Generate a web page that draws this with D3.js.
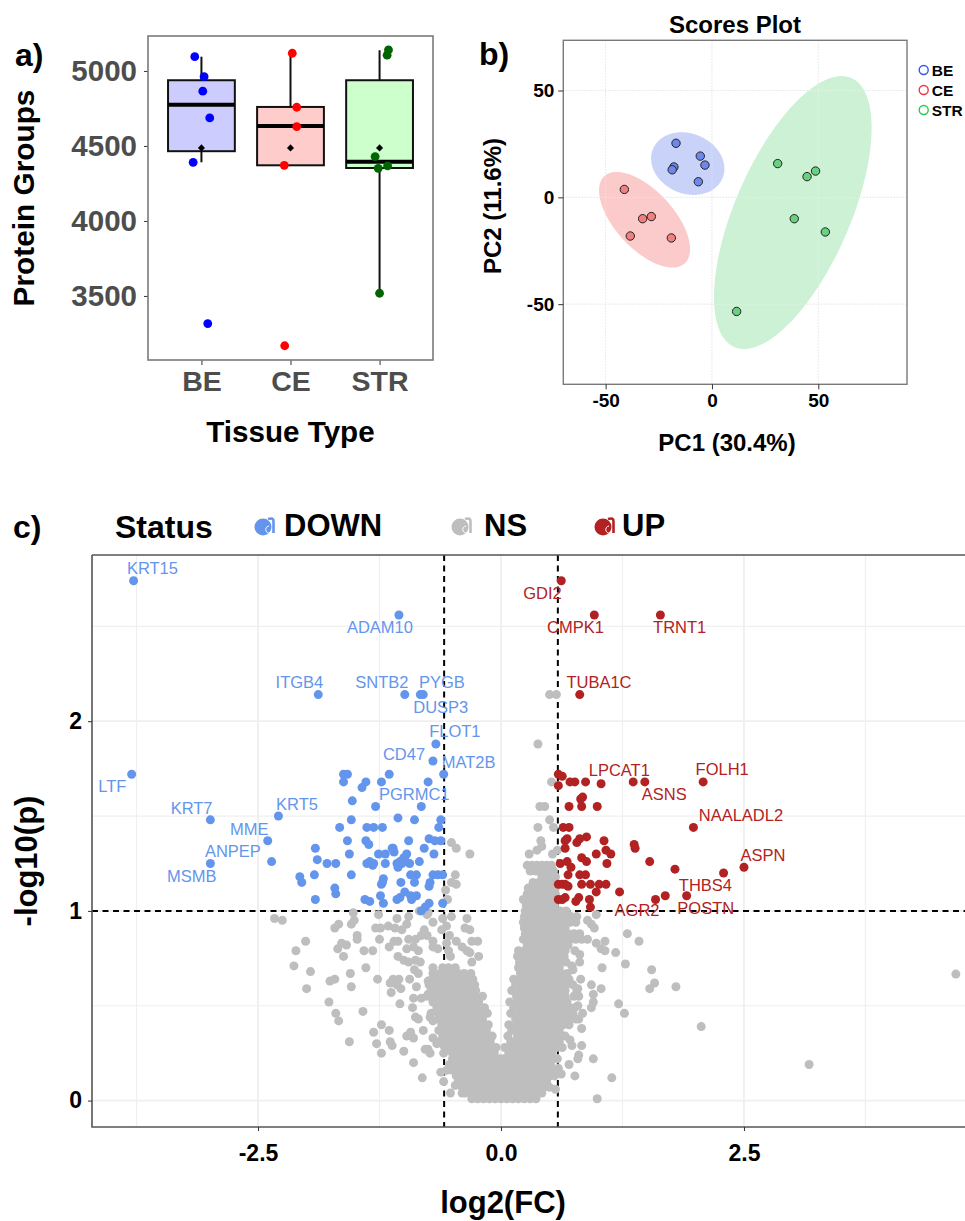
<!DOCTYPE html>
<html>
<head>
<meta charset="utf-8">
<script src="https://cdn.jsdelivr.net/npm/d3@7"></script>
<style>
  body { margin: 0; background: #fff; }
  svg { display: block; font-family: "Liberation Sans", Arial, sans-serif; }
</style>
</head>
<body>
<div id="chart"></div>
<script>
// a) protein groups per tissue
const tissues = ["BE", "CE", "STR"];
const box_q1 = [4465, 4371, 4353];
const box_median = [4775, 4633, 4395];
const box_q3 = [4938, 4760, 4938];
const whisker_low = [4391, 4371, 3518];
const whisker_high = [5095, 5118, 5138];
const box_mean = [4487, 4487, 4487];
const group_counts = [
    [5095, 4962, 4865, 4687, 4391, 3316],
    [5118, 4758, 4629, 4371, 3168],
    [5140, 5105, 4429, 4351, 4367, 3518]
];
const group_jitter = [
    [-0.075, 0.03, 0.015, 0.093, -0.093, 0.071],
    [0.02, 0.07, 0.07, -0.07, -0.065],
    [0.1, 0.085, -0.05, -0.015, 0.09, 0]
];

// b) PCA scores
const pc1_scores = [
    [-16.9, -5.5, -3.3, -17.9, -18.7, -6.4],
    [-41.2, -32.6, -28.5, -38.4, -19.1],
    [30.9, 48.7, 44.7, 38.7, 53.3, 11.6]
];
const pc2_scores = [
    [25.3, 19.3, 15.1, 14.2, 12.9, 7.3],
    [3.7, -10, -9, -18.1, -19],
    [15.8, 12.3, 9.7, -10, -16.2, -53.4]
];
// confidence ellipses: centre, vector to the topmost point, half width at centre height
const ellipse_center = [[-11.4, 15.8], [-31.7, -10.5], [38, -7.1]];
const ellipse_top = [[-2.82, 14.66], [-13.09, 22.39], [22.96, 63.9]];
const ellipse_half_width = [17, 16.93, 29.1];

// c) volcano plot, [log2FC, -log10p]
const down_points = [
    [-3.78,2.74],[-1.05,2.56],[-1.88,2.14],[-0.99,2.14],[-0.83,2.14],[-0.80,2.14],[-0.67,1.88],[-0.70,1.79],
    [-0.59,1.72],[-3.80,1.72],[-1.62,1.72],[-1.58,1.72],[-1.62,1.68],[-1.39,1.68],[-1.43,1.65],[-1.15,1.72],
    [-1.23,1.68],[-0.75,1.68],[-1.53,1.58],[-1.29,1.55],[-0.82,1.55],[-2.29,1.50],[-2.99,1.48],[-1.54,1.48],
    [-1.06,1.49],[-0.89,1.48],[-0.62,1.48],[-0.64,1.44],[-1.66,1.44],[-1.38,1.44],[-1.31,1.44],[-1.22,1.44],
    [-2.40,1.37],[-1.58,1.37],[-1.39,1.37],[-0.95,1.37],[-0.74,1.38],[-0.68,1.37],[-0.62,1.37],[-1.36,1.35],
    [-1.91,1.33],[-1.11,1.33],[-1.12,1.33],[-1.10,1.31],[-0.79,1.33],[-1.56,1.30],[-1.26,1.30],[-1.19,1.30],
    [-0.97,1.30],[-0.69,1.30],[-1.89,1.27],[-1.79,1.25],[-1.70,1.25],[-2.99,1.25],[-2.36,1.26],[-1.38,1.25],
    [-1.35,1.26],[-1.32,1.24],[-1.31,1.25],[-1.19,1.25],[-1.07,1.25],[-1.06,1.23],[-1.04,1.26],[-1.00,1.28],
    [-1.02,1.25],[-0.94,1.25],[-0.99,1.27],[-0.84,1.26],[-2.07,1.18],[-2.05,1.15],[-1.92,1.19],[-1.54,1.19],
    [-1.21,1.17],[-1.22,1.15],[-1.23,1.14],[-0.93,1.19],[-0.87,1.19],[-0.89,1.15],[-1.03,1.15],[-0.73,1.15],
    [-0.74,1.13],[-0.70,1.19],[-0.65,1.19],[-0.60,1.19],[-1.71,1.12],[-1.70,1.09],[-1.91,1.06],[-1.40,1.06],
    [-1.35,1.05],[-1.24,1.08],[-1.21,1.04],[-1.07,1.06],[-1.04,1.07],[-0.99,1.10],[-0.93,1.08],[-0.92,1.06],
    [-0.87,1.08],[-0.74,1.04],[-0.78,1.02],[-0.82,1.00],[-0.60,1.04]
];
const up_points = [
    [0.62,2.74],[0.96,2.56],[1.64,2.56],[0.81,2.14],[0.59,1.72],[0.63,1.71],[0.59,1.66],[0.71,1.68],[0.76,1.68],
    [0.87,1.68],[1.03,1.67],[1.36,1.68],[1.48,1.68],[2.08,1.68],[0.82,1.59],[0.84,1.60],[0.70,1.55],[0.83,1.55],
    [0.99,1.55],[1.98,1.44],[0.64,1.44],[0.70,1.44],[0.68,1.38],[0.66,1.37],[0.88,1.39],[0.81,1.38],[0.78,1.36],
    [1.06,1.37],[0.66,1.33],[1.37,1.35],[1.38,1.33],[0.98,1.30],[1.08,1.32],[1.13,1.30],[0.83,1.28],[0.88,1.26],
    [0.61,1.25],[0.68,1.26],[0.72,1.23],[1.09,1.25],[1.53,1.26],[2.50,1.23],[1.79,1.22],[2.29,1.20],[0.69,1.19],
    [0.81,1.19],[0.87,1.19],[0.59,1.14],[0.63,1.14],[0.66,1.14],[0.69,1.13],[0.83,1.14],[0.92,1.14],[1.01,1.14],
    [1.08,1.14],[1.22,1.10],[0.98,1.10],[1.91,1.08],[1.69,1.08],[1.59,1.06],[0.59,1.06],[0.66,1.07],[0.63,1.06],
    [0.80,1.07],[0.77,1.05],[0.91,1.06],[0.92,1.02]
];
// scattered non significant proteins
const ns_points = [
    [0.50,2.14],[0.57,2.14],[0.38,1.88],[0.52,1.68],[0.40,1.55],[0.45,1.55],[0.50,1.48],[0.38,1.44],[0.54,1.44],
    [0.41,1.37],[0.42,1.34],[0.37,1.32],[0.29,1.30],[0.53,1.30],[0.58,1.32],[-0.51,1.36],[-0.46,1.33],[-0.32,1.30],
    [-0.47,1.19],[-0.51,1.15],[-0.46,1.14],[-0.57,1.11],[-0.55,1.06],
    [-2.33,0.96],[-2.25,0.95],[-1.52,0.99],[-2.01,0.84],[-2.11,0.79],[-2.13,0.71],[-1.96,0.68],[-2.00,0.59],
    [-1.77,0.52],[-1.70,0.46],[-1.67,0.42],[-1.56,0.31],[-1.42,0.47],[-1.71,0.91],[-1.67,0.93],[-1.54,0.93],
    [-1.51,0.95],[-1.48,0.87],[-1.48,0.85],[-1.68,0.80],[-1.64,0.83],[-1.59,0.82],[-1.62,0.76],[-1.41,0.79],
    [-1.32,0.79],[-1.39,0.70],[-1.55,0.67],[-1.76,0.63],[-1.71,0.64],[-1.54,0.60],[-1.27,0.64],[-1.26,0.98],
    [-1.29,0.91],[-1.24,0.91],[-1.25,0.85],[-1.16,0.92],[-1.07,0.96],[-0.95,0.97],[-1.09,0.91],[-1.02,0.90],
    [-0.97,0.93],[-1.10,0.84],[-1.06,0.84],[-1.15,0.81],[-0.95,0.85],[-0.88,0.85],[-0.97,0.80],[-0.90,0.81],
    [-0.85,0.79],[-1.06,0.76],[-1.00,0.74],[-0.95,0.73],[-0.88,0.74],[-0.83,0.73],[-0.89,0.69],[-0.84,1.00],
    [-0.75,0.99],[-0.70,0.94],[-0.76,0.98],[-0.79,0.90],[-0.82,0.87],[-0.76,0.87],[-0.70,0.84],[-0.70,0.81],
    [-0.65,0.80],[-0.60,0.96],[-0.51,0.97],[-0.56,0.92],[-0.61,0.90],[-0.35,0.96],[-0.37,0.91],[-0.32,0.90],
    [-0.53,0.87],[-0.56,0.83],[-0.54,0.79],[-0.52,0.76],[-0.46,0.84],[-0.40,0.81],[-0.35,0.79],[-0.30,0.84],
    [-0.24,0.84],[-0.32,0.78],[-0.23,0.76],[-0.30,0.73],[-1.14,0.62],[-1.11,0.64],[-1.05,0.64],[-1.07,0.61],
    [-1.03,0.59],[-1.13,0.57],[-0.94,0.64],[-1.04,0.51],[-0.91,0.49],[-0.88,0.44],[-0.85,0.43],[-1.23,0.40],
    [-1.15,0.37],[-1.31,0.36],[-1.28,0.30],[-1.14,0.31],[-1.12,0.29],[-1.23,0.25],[-1.00,0.26],[-0.90,0.20],
    [-0.81,0.12],[-0.97,0.34],[-0.93,0.36],[-0.90,0.33],[-0.80,0.37],[-0.78,0.27],[-0.75,0.27],[-0.73,0.25],
    [-0.70,0.33],[-0.66,0.30],[-0.59,0.29],[-0.62,0.15],[-0.56,0.16],[-0.59,0.10],[-0.52,0.04],[-0.40,0.04],
    [-0.47,0.08],[-0.90,0.54],[-0.82,0.54],[-0.75,0.56],[-0.73,0.44],[-0.70,0.42],[-0.87,0.60],[-0.85,0.67],
    [-0.70,0.70],[-0.75,0.63],
    [0.98,0.98],[0.89,0.95],[0.93,0.93],[0.96,0.91],[1.30,0.88],[1.42,0.84],[1.07,0.84],[0.98,0.83],[1.03,0.80],
    [1.07,0.79],[1.18,0.78],[1.28,0.72],[1.04,0.70],[1.55,0.69],[1.58,0.62],[1.53,0.59],[1.80,0.60],[0.82,0.64],
    [0.93,0.61],[1.03,0.59],[0.95,0.56],[0.95,0.52],[0.93,0.49],[1.21,0.51],[1.27,0.46],[0.84,0.46],[0.80,0.43],
    [0.83,0.38],[2.06,0.39],[0.71,0.32],[0.73,0.29],[0.83,0.29],[0.80,0.24],[0.79,0.22],[0.95,0.22],[0.70,0.19],
    [0.62,0.14],[0.76,0.13],[1.14,0.12],[0.99,0.01],[0.56,0.06],[0.59,0.17],[0.73,0.71],[0.74,0.69],[0.76,0.79],
    [0.81,0.77],[0.81,0.73],[0.79,0.59],[0.80,0.55],[0.79,0.50],[0.69,0.43],[0.73,0.46],[4.68,0.667],[3.17,0.19]
];
// the dense V of non significant proteins, read row by row: y in ns_row_y, x values in ns_row_x
const ns_row_y = [0.01,0.04,0.07,0.10,0.13,0.16,0.19,0.22,0.25,0.28,0.31,0.34,0.37,0.40,0.43,0.46,0.49,0.52,0.55,0.58,
    0.61,0.64,0.67,0.70,0.73,0.76,0.79,0.82,0.85,0.88,0.91,0.94,0.97,1.00,1.03,1.06,1.09,1.12,1.15,1.18,1.21,1.24];
const ns_row_x = [
    [-.30,-.24,-.18,-.12,-.06,0,.06,.12,.18,.24,.30,.36],
    [-.37,-.30,-.24,-.18,-.12,-.06,0,.06,.12,.18,.24,.30,.36,.42],
    [-.40,-.34,-.28,-.22,-.16,-.10,-.04,.02,.08,.14,.20,.26,.32,.38,.44,.50],
    [-.44,-.36,-.30,-.24,-.18,-.12,-.06,0,.06,.12,.18,.24,.30,.36,.42,.47],
    [-.46,-.40,-.34,-.28,-.22,-.16,-.10,-.04,.02,.08,.14,.20,.26,.32,.38,.44,.50,.55],
    [-.50,-.44,-.38,-.32,-.26,-.20,-.14,-.08,-.03,.01,.07,.13,.19,.25,.31,.37,.43,.49,.52],
    [-.53,-.44,-.38,-.32,-.26,-.20,-.14,-.08,-.02,.03,.09,.15,.21,.27,.33,.39,.45,.51],
    [-.50,-.48,-.42,-.36,-.30,-.24,-.18,-.12,-.06,-.01,.03,.11,.17,.23,.29,.35,.41,.47,.53,.58],
    [-.59,-.50,-.44,-.38,-.32,-.26,-.20,-.14,-.07,.08,.12,.18,.24,.30,.36,.42,.48,.52],
    [-.57,-.53,-.47,-.41,-.35,-.29,-.23,-.17,-.11,-.05,.04,.11,.17,.23,.29,.35,.41,.47,.53,.57,.63],
    [-.64,-.56,-.50,-.44,-.38,-.32,-.26,-.20,-.14,-.11,.10,.14,.20,.26,.32,.38,.44,.50,.56,.60],
    [-.60,-.57,-.51,-.45,-.39,-.33,-.27,-.21,-.15,-.09,.07,.17,.23,.29,.35,.41,.47,.53,.59,.62,.66],
    [-.64,-.56,-.50,-.44,-.38,-.32,-.26,-.20,-.15,.11,.15,.21,.27,.33,.39,.45,.51,.57,.60],
    [-.61,-.57,-.51,-.45,-.39,-.33,-.27,-.21,-.13,.08,.16,.22,.28,.34,.40,.46,.52,.58,.64,.70],
    [-.64,-.59,-.53,-.47,-.41,-.35,-.29,-.23,-.19,.15,.20,.26,.32,.38,.44,.50,.56,.62,.68,.72,.77],
    [-.72,-.64,-.58,-.52,-.46,-.40,-.34,-.28,-.22,-.14,.10,.19,.25,.31,.37,.43,.49,.55,.61,.67,.74],
    [-.66,-.62,-.56,-.50,-.44,-.38,-.32,-.26,-.17,.13,.17,.23,.29,.35,.41,.47,.53,.59,.65,.71,.76],
    [-.70,-.63,-.57,-.51,-.45,-.39,-.33,-.27,-.23,.09,.17,.23,.29,.35,.41,.47,.53,.59,.64,.68],
    [-.76,-.69,-.63,-.57,-.51,-.45,-.39,-.33,-.27,-.19,.16,.18,.24,.30,.36,.42,.48,.54,.60,.66,.75],
    [-.72,-.66,-.60,-.54,-.48,-.42,-.36,-.30,-.26,.11,.20,.26,.32,.38,.44,.50,.56,.62,.66,.78],
    [-.74,-.69,-.63,-.57,-.51,-.45,-.39,-.31,-.27,.15,.19,.25,.31,.37,.43,.49,.55,.61,.67,.74],
    [-.71,-.65,-.59,-.53,-.47,-.41,-.37,-.29,.13,.19,.25,.31,.37,.43,.49,.55,.61,.67,.70],
    [-.70,-.63,-.56,-.50,-.44,-.38,-.31,.20,.26,.32,.38,.44,.50,.56,.62,.68],
    [-.60,-.54,-.47,.18,.24,.30,.36,.42,.48,.54,.60],
    [.19,.25,.31,.37,.43,.49,.55,.61,.67],
    [.17,.23,.29,.35,.41,.47,.53,.59,.65],
    [.18,.24,.30,.36,.42,.48,.54,.60,.66],
    [.27,.33,.39,.45,.51,.57,.63,.69],
    [.23,.29,.35,.41,.47,.53,.59,.65,.71,.77,.83,.89],
    [.25,.31,.37,.43,.49,.55,.61,.69,.75,.81],
    [.24,.30,.36,.42,.48,.54,.60,.66],
    [.23,.29,.35,.41,.47,.53,.59,.65,.71,.77],
    [.24,.30,.36,.42,.48,.54,.60,.66,.72,.78],
    [.25,.31,.37,.43,.49,.55,.61,.67],
    [.26,.32,.38,.44,.50,.55],
    [.23,.29,.35,.41,.47,.53],
    [.27,.33,.39,.45,.51,.56],
    [.28,.34,.40,.46,.51,.56],
    [.33,.39,.44,.50,.55],
    [.42,.47,.52,.56],
    [.30,.36,.41,.49,.54],
    [.27,.32,.37,.42,.47,.52]
];
const fc_threshold = 0.585;
const p_threshold = 1;

const down_genes = ["KRT15","ADAM10","ITGB4","SNTB2","PYGB","DUSP3","FLOT1","CD47","MAT2B","LTF","KRT7","KRT5","PGRMC1","MME","ANPEP","MSMB"];
const down_gene_fc = [-3.78,-1.05,-1.88,-0.99,-0.83,-0.80,-0.67,-0.70,-0.59,-3.80,-2.99,-2.29,-0.82,-2.40,-2.36,-2.99];
const down_gene_p = [2.74,2.56,2.14,2.14,2.14,2.14,1.88,1.79,1.72,1.72,1.48,1.50,1.55,1.37,1.26,1.25];
const up_genes = ["GDI2","CMPK1","TRNT1","TUBA1C","LPCAT1","ASNS","FOLH1","NAALADL2","ASPN","THBS4","POSTN","AGR2"];
const up_gene_fc = [0.62,0.96,1.64,0.81,1.03,1.48,2.08,1.98,2.50,2.29,1.91,1.22];
const up_gene_p = [2.74,2.56,2.56,2.14,1.67,1.68,1.68,1.44,1.23,1.20,1.08,1.10];

// label placement relative to the point (px), what ggrepel came up with
const down_label_nudge = [[-6.7,-6.7],[-52,18.4],[-42.7,-6.3],[-49.4,-6.3],[-1.4,-6.3],[-10,18.3],[-6.7,-6.6],[-50,-0.7],[-2,-6],[-33.4,18],[-39.7,-6.3],[-2.3,-5.7],[-42.4,-6.3],[-37.7,-6],[-66.7,-5],[-43.4,18.7]];
const up_label_nudge = [[-38,18.6],[-47.3,18.4],[-7.3,18.4],[-13.3,-6.7],[-12.4,-8],[-3,18.3],[-7.6,-6.4],[5.3,-6.3],[-3.4,-6.7],[-44.7,17.7],[-9.3,18],[-5,23.7]];

const box_colors = ["#ccccff", "#ffcccc", "#ccffcc"];
const jitter_colors = ["#0000ff", "#ff0000", "#006400"];
const ellipse_colors = ["#c9d2f8", "#fbcaca", "#cdf1d5"];
const score_colors = ["#6f87ea", "#f07f7f", "#69d080"];
const legend_colors = ["#3355ee", "#ee3344", "#22cc55"];

const svg = d3.select("#chart").append("svg")
    .attr("width", 965)
    .attr("height", 1221);

// panel letters
[["a)", 15, 66], ["b)", 479, 65], ["c)", 13, 538]].forEach(d => {
    svg.append("text").attr("x", d[1]).attr("y", d[2])
        .attr("font-size", 32).attr("font-weight", "bold").text(d[0]);
});

function styleAxis(g, color, size, weight) {
    g.select(".domain").remove();
    g.selectAll(".tick line").attr("stroke", "#333");
    g.selectAll(".tick text")
        .attr("fill", color)
        .attr("font-family", "Liberation Sans")
        .attr("font-size", size)
        .attr("font-weight", weight);
}

// ---- a) box plot
function drawBoxes() {
    const left = 148, right = 433, top = 36, bottom = 360;
    const x = d3.scalePoint().domain(tissues).range([left, right]).padding(0.6);
    const y = d3.scaleLinear().domain([3073, 5233]).range([bottom, top]);
    const step = x.step();
    const box_width = step * 0.75;
    const g = svg.append("g");

    g.append("g").attr("transform", `translate(${left},0)`)
        .call(d3.axisLeft(y).tickValues([3500, 4000, 4500, 5000]).tickFormat(d3.format("d")).tickSize(4).tickPadding(7))
        .call(a => styleAxis(a, "#4d4d4d", 29.5, "bold"));
    g.append("g").attr("transform", `translate(0,${bottom})`)
        .call(d3.axisBottom(x).tickSize(5).tickPadding(6))
        .call(a => styleAxis(a, "#4d4d4d", 28.5, "bold"));

    const box = g.selectAll(".box").data(tissues).join("g").attr("class", "box");
    box.append("line")
        .attr("x1", d => x(d)).attr("x2", d => x(d))
        .attr("y1", (d, i) => y(whisker_low[i])).attr("y2", (d, i) => y(whisker_high[i]))
        .attr("stroke", "#111").attr("stroke-width", 2);
    box.append("rect")
        .attr("x", d => x(d) - box_width / 2).attr("width", box_width)
        .attr("y", (d, i) => y(box_q3[i]))
        .attr("height", (d, i) => y(box_q1[i]) - y(box_q3[i]))
        .attr("fill", (d, i) => box_colors[i])
        .attr("stroke", "#111").attr("stroke-width", 2);
    box.append("line")
        .attr("x1", d => x(d) - box_width / 2).attr("x2", d => x(d) + box_width / 2)
        .attr("y1", (d, i) => y(box_median[i])).attr("y2", (d, i) => y(box_median[i]))
        .attr("stroke", "#000").attr("stroke-width", 4);
    box.append("path")
        .attr("transform", (d, i) => `translate(${x(d)},${y(box_mean[i])}) rotate(45)`)
        .attr("d", "M-2.5,-2.5H2.5V2.5H-2.5Z").attr("fill", "#000");

    tissues.forEach((t, i) => {
        g.append("g").selectAll("circle").data(group_counts[i]).join("circle")
            .attr("cx", (d, j) => x(t) + group_jitter[i][j] * step)
            .attr("cy", d => y(d))
            .attr("r", 4.4)
            .attr("fill", jitter_colors[i]);
    });

    g.append("rect").attr("x", left).attr("y", top)
        .attr("width", right - left).attr("height", bottom - top)
        .attr("fill", "none").attr("stroke", "#7a7a7a").attr("stroke-width", 1.6);

    g.append("text").attr("x", x("CE")).attr("y", 442).attr("text-anchor", "middle")
        .attr("font-size", 29.6).attr("font-weight", "bold").text("Tissue Type");
    g.append("text").attr("transform", "translate(34,198) rotate(-90)").attr("text-anchor", "middle")
        .attr("font-size", 29.8).attr("font-weight", "bold").text("Protein Groups");
}

// ---- b) scores plot
function drawScores() {
    const left = 563.3, right = 907, top = 40.3, bottom = 384.3;
    const x = d3.scaleLinear().domain([-69.9, 91.7]).range([left, right]);
    const y = d3.scaleLinear().domain([-87.5, 73.5]).range([bottom, top]);
    const g = svg.append("g");
    const ticks = [-50, 0, 50];

    g.append("g").selectAll("line").data(ticks).join("line")
        .attr("x1", d => x(d)).attr("x2", d => x(d)).attr("y1", top).attr("y2", bottom)
        .attr("stroke", "#ddd").attr("stroke-dasharray", "1.5,1.5");
    g.append("g").selectAll("line").data(ticks).join("line")
        .attr("x1", left).attr("x2", right).attr("y1", d => y(d)).attr("y2", d => y(d))
        .attr("stroke", "#ddd").attr("stroke-dasharray", "1.5,1.5");

    const angles = d3.range(0, 2 * Math.PI + 0.05, 0.05);
    const ellipse_line = d3.line();
    g.append("g").selectAll("path").data(tissues).join("path")
        .attr("d", (d, i) => ellipse_line(angles.map(t => [
            x(ellipse_center[i][0] + ellipse_top[i][0] * Math.cos(t) + ellipse_half_width[i] * Math.sin(t)),
            y(ellipse_center[i][1] + ellipse_top[i][1] * Math.cos(t))
        ])))
        .attr("fill", (d, i) => ellipse_colors[i]);

    // redraw the faint grid over the ellipses
    g.append("g").selectAll("line").data(ticks).join("line")
        .attr("x1", d => x(d)).attr("x2", d => x(d)).attr("y1", top).attr("y2", bottom)
        .attr("stroke", "#fff").attr("stroke-opacity", 0.35).attr("stroke-dasharray", "1.5,1.5");
    g.append("g").selectAll("line").data(ticks).join("line")
        .attr("x1", left).attr("x2", right).attr("y1", d => y(d)).attr("y2", d => y(d))
        .attr("stroke", "#fff").attr("stroke-opacity", 0.35).attr("stroke-dasharray", "1.5,1.5");

    tissues.forEach((t, i) => {
        g.append("g").selectAll("circle").data(pc1_scores[i]).join("circle")
            .attr("cx", d => x(d))
            .attr("cy", (d, j) => y(pc2_scores[i][j]))
            .attr("r", 4.2)
            .attr("fill", score_colors[i])
            .attr("stroke", "#222").attr("stroke-width", 1);
    });

    g.append("rect").attr("x", left).attr("y", top)
        .attr("width", right - left).attr("height", bottom - top)
        .attr("fill", "none").attr("stroke", "#7a7a7a").attr("stroke-width", 1.4);

    g.append("g").attr("transform", `translate(${left},0)`)
        .call(d3.axisLeft(y).tickValues(ticks).tickFormat(d3.format("d")).tickSize(5).tickPadding(4))
        .call(a => styleAxis(a, "#000", 19, "bold"));
    g.append("g").attr("transform", `translate(0,${bottom})`)
        .call(d3.axisBottom(x).tickValues(ticks).tickFormat(d3.format("d")).tickSize(5).tickPadding(4))
        .call(a => styleAxis(a, "#000", 19, "bold"));
    g.selectAll(".tick text").text(function() { return this.textContent.replace("\u2212", "-"); });

    g.append("text").attr("x", 735).attr("y", 33).attr("text-anchor", "middle")
        .attr("font-size", 24).attr("font-weight", "bold").text("Scores Plot");
    g.append("text").attr("x", 727).attr("y", 451).attr("text-anchor", "middle")
        .attr("font-size", 24).attr("font-weight", "bold").text("PC1 (30.4%)");
    g.append("text").attr("transform", "translate(501,206) rotate(-90)").attr("text-anchor", "middle")
        .attr("font-size", 24).attr("font-weight", "bold").text("PC2 (11.6%)");

    const legend = g.selectAll(".key").data(tissues).join("g").attr("class", "key")
        .attr("transform", (d, i) => `translate(923.7,${70 + i * 20})`);
    legend.append("circle").attr("r", 4.5).attr("fill", "#fff")
        .attr("stroke", (d, i) => legend_colors[i]).attr("stroke-width", 1.4);
    legend.append("text").attr("x", 8).attr("y", 5.5)
        .attr("font-size", 15.5).attr("font-weight", "bold").text(d => d);
}

// ---- c) volcano plot
function drawVolcano() {
    const left = 92, right = 965, top = 555, bottom = 1127;
    const x = d3.scaleLinear().domain([-4.208, 4.774]).range([left, right]);
    const y = d3.scaleLinear().domain([-0.1392, 2.876]).range([bottom, top]);
    const g = svg.append("g");
    const major_x = [-2.5, 0, 2.5], minor_x = [-3.75, -1.25, 1.25, 3.75];
    const major_y = [0, 1, 2], minor_y = [0.5, 1.5, 2.5];

    g.append("g").selectAll("line").data(minor_x.concat(major_x)).join("line")
        .attr("x1", d => x(d)).attr("x2", d => x(d)).attr("y1", top).attr("y2", bottom)
        .attr("stroke", "#efefef").attr("stroke-width", d => major_x.includes(d) ? 1.8 : 1.2);
    g.append("g").selectAll("line").data(minor_y.concat(major_y)).join("line")
        .attr("x1", left).attr("x2", right).attr("y1", d => y(d)).attr("y2", d => y(d))
        .attr("stroke", "#efefef").attr("stroke-width", d => major_y.includes(d) ? 1.8 : 1.2);

    [-fc_threshold, fc_threshold].forEach(v => {
        g.append("line").attr("x1", x(v)).attr("x2", x(v)).attr("y1", top).attr("y2", bottom)
            .attr("stroke", "#000").attr("stroke-width", 2).attr("stroke-dasharray", "6,4.5");
    });
    g.append("line").attr("x1", left).attr("x2", right).attr("y1", y(p_threshold)).attr("y2", y(p_threshold))
        .attr("stroke", "#000").attr("stroke-width", 2).attr("stroke-dasharray", "6,4.5");

    const ns_all = ns_points.concat(ns_row_x.flatMap((xs, i) => xs.map(v => [v, ns_row_y[i]])));
    [[ns_all, "#bebebe"], [down_points, "#6495ed"], [up_points, "#b22222"]].forEach(([pts, color]) => {
        g.append("g").selectAll("circle").data(pts).join("circle")
            .attr("cx", d => x(d[0]))
            .attr("cy", d => y(d[1]))
            .attr("r", 4.5)
            .attr("fill", color);
    });

    g.append("g").selectAll("text").data(down_genes).join("text")
        .attr("x", (d, i) => x(down_gene_fc[i]) + down_label_nudge[i][0])
        .attr("y", (d, i) => y(down_gene_p[i]) + down_label_nudge[i][1])
        .attr("font-size", 16.5).attr("fill", "#6495ed").text(d => d);
    g.append("g").selectAll("text").data(up_genes).join("text")
        .attr("x", (d, i) => x(up_gene_fc[i]) + up_label_nudge[i][0])
        .attr("y", (d, i) => y(up_gene_p[i]) + up_label_nudge[i][1])
        .attr("font-size", 16.5).attr("fill", "#b22222").text(d => d);

    g.append("path")
        .attr("d", `M${left},${top}H${right}M${left},${top}V${bottom}H${right}`)
        .attr("fill", "none").attr("stroke", "#555").attr("stroke-width", 1.6);

    g.append("g").attr("transform", `translate(${left},0)`)
        .call(d3.axisLeft(y).tickValues(major_y).tickFormat(d3.format("d")).tickSize(4).tickPadding(6))
        .call(a => styleAxis(a, "#000", 23, "bold"));
    g.append("g").attr("transform", `translate(0,${bottom})`)
        .call(d3.axisBottom(x).tickValues(major_x).tickFormat(d3.format(".1f")).tickSize(4).tickPadding(14))
        .call(a => styleAxis(a, "#000", 23, "bold"));
    g.selectAll(".tick text").text(function() { return this.textContent.replace("\u2212", "-"); });

    g.append("text").attr("x", 503).attr("y", 1213).attr("text-anchor", "middle")
        .attr("font-size", 31).attr("font-weight", "bold").text("log2(FC)");
    g.append("text").attr("transform", "translate(37,861) rotate(-90)").attr("text-anchor", "middle")
        .attr("font-size", 31).attr("font-weight", "bold").text("-log10(p)");

    // legend, the keys are a point with a little "a" stuck on it
    g.append("text").attr("x", 115).attr("y", 538).attr("font-size", 32).attr("font-weight", "bold").text("Status");
    [["DOWN", "#6495ed", 263, 284], ["NS", "#bebebe", 460, 484], ["UP", "#b22222", 603, 622]].forEach(d => {
        const key = g.append("g").attr("transform", `translate(${d[2]},527)`);
        key.append("circle").attr("r", 8.5).attr("fill", d[1]);
        key.append("path").attr("d", "M5,-8 Q11,-10 10.5,-5 V6")
            .attr("fill", "none").attr("stroke", d[1]).attr("stroke-width", 2.6);
        key.append("path").attr("d", "M6,-1 A3.6,3.6 0 1 0 9,5")
            .attr("fill", "none").attr("stroke", "#fff").attr("stroke-width", 1);
        g.append("text").attr("x", d[3]).attr("y", 536).attr("font-size", 31).attr("font-weight", "bold").text(d[0]);
    });
}

drawBoxes();
drawScores();
drawVolcano();
</script>
</body>
</html>
